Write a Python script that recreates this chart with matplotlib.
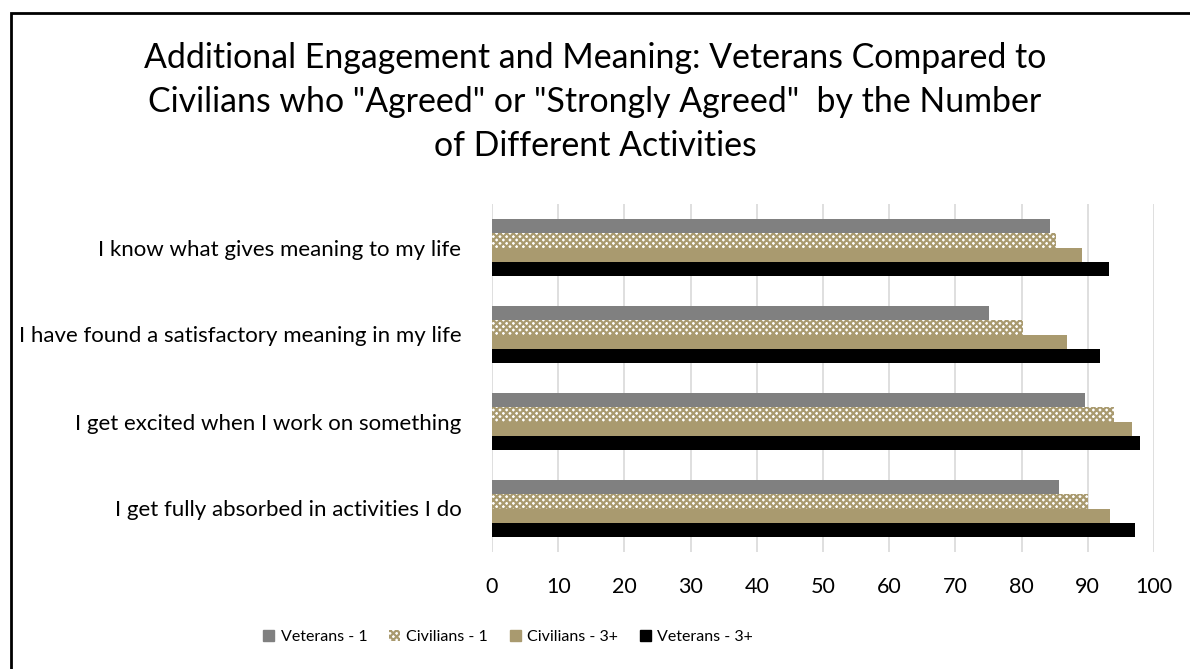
import matplotlib
matplotlib.use("Agg")
import matplotlib.pyplot as plt
from matplotlib.patches import Patch, Rectangle

plt.rcParams['font.family'] = ['Lato', 'DejaVu Sans']
plt.rcParams['hatch.linewidth'] = 1.6

categories = [
    "I know what gives meaning to my life",
    "I have found a satisfactory meaning in my life",
    "I get excited when I work on something",
    "I get fully absorbed in activities I do",
]
series_names = ["Veterans - 1", "Civilians - 1", "Civilians - 3+", "Veterans - 3+"]
veterans_1 = [84.3, 75.0, 89.6, 85.6]
civilians_1 = [85.2, 80.2, 94.0, 90.1]
civilians_3 = [89.1, 86.9, 96.7, 93.4]
veterans_3 = [93.2, 91.8, 97.9, 97.2]
xticks = [0, 10, 20, 30, 40, 50, 60, 70, 80, 90, 100]
title = ('Additional Engagement and Meaning: Veterans Compared to\n'
         'Civilians who "Agreed" or "Strongly Agreed"  by the Number\n'
         'of Different Activities')

TAN = '#A99A6F'
styles = [
    dict(color='#808080'),
    dict(facecolor='white', edgecolor=TAN, hatch='xxxxx', linewidth=0),
    dict(color=TAN),
    dict(color='black'),
]
data = [veterans_1, civilians_1, civilians_3, veterans_3]

W, H = 1190, 669
fig = plt.figure(figsize=(W / 100, H / 100), dpi=100)
ax = fig.add_axes([492 / W, 1 - 552 / H, (1154 - 492) / W, (552 - 204) / H])

h = 0.162
offsets = [-1.5 * h, -0.5 * h, 0.5 * h, 1.5 * h]
ypos = list(range(len(categories)))
for vals, off, st in zip(data, offsets, styles):
    ax.barh([y + off for y in ypos], vals, height=h, **st)

ax.set_xlim(0, 100)
ax.set_ylim(3.5, -0.5)
ax.set_xticks(xticks)
ax.set_xticklabels([str(t) for t in xticks], fontsize=15.5)
ax.set_yticks(ypos)
ax.set_yticklabels(categories, fontsize=16)
ax.tick_params(axis='both', length=0)
ax.tick_params(axis='x', pad=18)
ax.tick_params(axis='y', pad=22)
for s in ax.spines.values():
    s.set_visible(False)
ax.xaxis.grid(True, color='#D9D9D9', linewidth=1.2)
ax.set_axisbelow(True)

fig.text(0.5, 1 - 102 / H, title, ha='center', va='center', fontsize=24.4,
         linespacing=1.47, color='black')

handles = [Patch(**st) for st in styles]
leg = fig.legend(handles, series_names, loc='center', bbox_to_anchor=(508 / W, 1 - 637 / H),
                 ncol=4, frameon=False, fontsize=11.5, handlelength=0.7, handleheight=0.7,
                 handletextpad=0.4, columnspacing=1.35)

fig.patches.append(Rectangle((11 / W, -0.1), 1.2, 1 - 13 / H + 0.1, transform=fig.transFigure,
                             fill=False, edgecolor='black', linewidth=2))

fig.savefig('out.png', dpi=100, facecolor='white')
